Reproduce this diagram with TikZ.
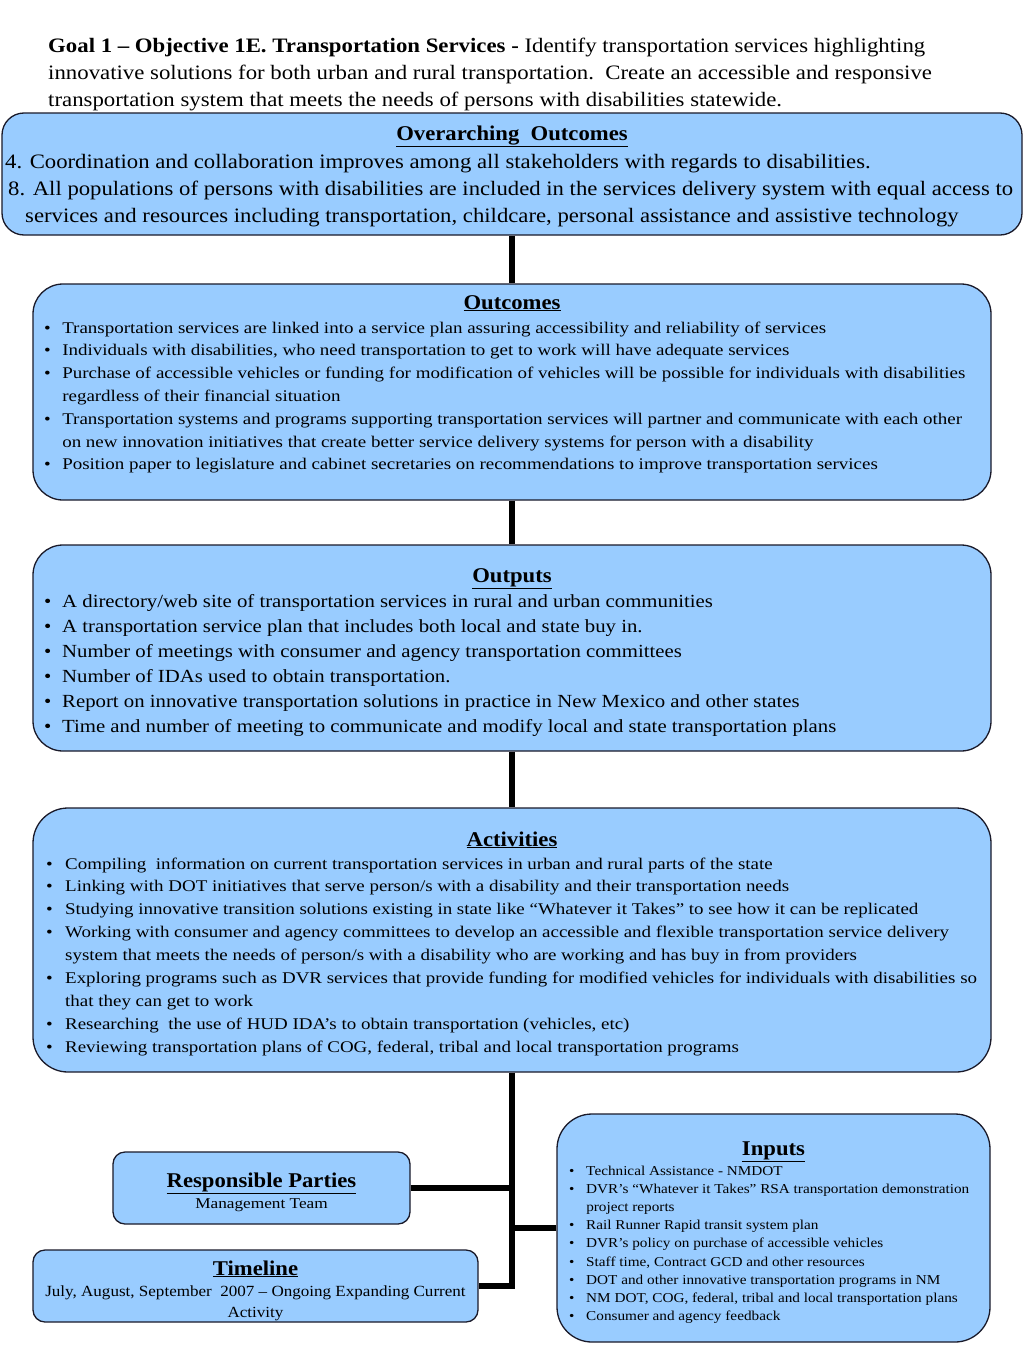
\documentclass[tikz,border=0pt]{standalone}
\usepackage{fontspec}
\setmainfont{Liberation Serif}
\definecolor{boxblue}{HTML}{99CCFF}
\definecolor{edge}{HTML}{1A1A2A}
\newcommand{\blt}[1]{\makebox[#1][l]{•}}
\tikzset{
  box/.style={draw=edge, line width=1.3pt, fill=boxblue, inner sep=0pt},
  conn/.style={line width=6.5pt, black, line join=miter},
  txt/.style={inner sep=0pt, anchor=base west, align=left, transform shape},
  ttl/.style={inner sep=0pt, anchor=base, xscale=1.08, transform shape, font=\fontsize{21}{27}\selectfont\bfseries}
}
\begin{document}
\begin{tikzpicture}[x=1pt,y=1pt]
\useasboundingbox[fill=white] (0,0) rectangle (1024,-1365);

% header
\node[txt, xscale=1.112] (head) at (48,-52) {\fontsize{20.5}{27}\selectfont\begin{tabular}[t]{@{}l@{}}\textbf{Goal 1 – Objective 1E. Transportation Services -} Identify transportation services highlighting\\ innovative solutions for both urban and rural transportation.\ \ Create an accessible and responsive\\ transportation system that meets the needs of persons with disabilities statewide.\end{tabular}};

% boxes
\node[box, rounded corners=22pt, minimum width=1020pt, minimum height=122pt] (over) at (512,-174) {};
\node[box, rounded corners=30pt, minimum width=958pt, minimum height=216pt] (outc) at (512,-392) {};
\node[box, rounded corners=30pt, minimum width=958pt, minimum height=206pt] (outp) at (512,-648) {};
\node[box, rounded corners=35pt, minimum width=958pt, minimum height=264pt] (act) at (512,-940) {};
\node[box, rounded corners=12pt, minimum width=297pt, minimum height=72pt] (resp) at (261.5,-1188) {};
\node[box, rounded corners=12pt, minimum width=445pt, minimum height=72pt] (tl) at (255.5,-1286) {};
\node[box, rounded corners=35pt, minimum width=433pt, minimum height=228pt] (inp) at (773.5,-1228) {};

% connectors
\draw[conn] (over.south) -- (outc.north);
\draw[conn] (outc.south) -- (outp.north);
\draw[conn] (outp.south) -- (act.north);
\draw[conn] (act.south) -- (act.south |- tl.east) -- (tl.east);
\draw[conn] (resp.east) -- (resp.east -| act.south);
\draw[conn] (inp.west) -- (inp.west -| act.south);

% overarching
\node[ttl] (overt) at (512,-140) {\underline{Overarching\ \ Outcomes}};
\node[txt, xscale=1.108] (overb) at (5,-168) {\fontsize{20.5}{27}\selectfont\begin{tabular}[t]{@{}l@{}}4. Coordination and collaboration improves among all stakeholders with regards to disabilities.\\
\hspace*{2.7pt}8. All populations of persons with disabilities are included in the services delivery system with equal access to\\
\hspace*{18pt}services and resources including transportation, childcare, personal assistance and assistive technology\end{tabular}};

% outcomes
\node[ttl] (outct) at (512,-309) {\underline{Outcomes}};
\node[txt, xscale=1.164] (outcb) at (44,-333) {\fontsize{16.3}{22.8}\selectfont\begin{tabular}[t]{@{}l@{}}
\blt{15.5pt}Transportation services are linked into a service plan assuring accessibility and reliability of services\\
\blt{15.5pt}Individuals with disabilities, who need transportation to get to work will have adequate services\\
\blt{15.5pt}Purchase of accessible vehicles or funding for modification of vehicles will be possible for individuals with disabilities\\
\hspace*{15.5pt}regardless of their financial situation\\
\blt{15.5pt}Transportation systems and programs supporting transportation services will partner and communicate with each other\\
\hspace*{15.5pt}on new innovation initiatives that create better service delivery systems for person with a disability\\
\blt{15.5pt}Position paper to legislature and cabinet secretaries on recommendations to improve transportation services
\end{tabular}};

% outputs
\node[ttl] (outpt) at (512,-582) {\underline{Outputs}};
\node[txt, xscale=1.123] (outpb) at (44,-607) {\fontsize{18.5}{25}\selectfont\begin{tabular}[t]{@{}l@{}}
\blt{16pt}A directory/web site of transportation services in rural and urban communities\\
\blt{16pt}A transportation service plan that includes both local and state buy in.\\
\blt{16pt}Number of meetings with consumer and agency transportation committees\\
\blt{16pt}Number of IDAs used to obtain transportation.\\
\blt{16pt}Report on innovative transportation solutions in practice in New Mexico and other states\\
\blt{16pt}Time and number of meeting to communicate and modify local and state transportation plans
\end{tabular}};

% activities
\node[ttl] (actt) at (512,-846) {\underline{Activities}};
\node[txt, xscale=1.163] (actb) at (46,-869) {\fontsize{16.3}{22.9}\selectfont\begin{tabular}[t]{@{}l@{}}
\blt{16.3pt}Compiling\ \ information on current transportation services in urban and rural parts of the state\\
\blt{16.3pt}Linking with DOT initiatives that serve person/s with a disability and their transportation needs\\
\blt{16.3pt}Studying innovative transition solutions existing in state like “Whatever it Takes” to see how it can be replicated\\
\blt{16.3pt}Working with consumer and agency committees to develop an accessible and flexible transportation service delivery\\
\hspace*{16.3pt}system that meets the needs of person/s with a disability who are working and has buy in from providers\\
\blt{16.3pt}Exploring programs such as DVR services that provide funding for modified vehicles for individuals with disabilities so\\
\hspace*{16.3pt}that they can get to work\\
\blt{16.3pt}Researching\ \ the use of HUD IDA’s to obtain transportation (vehicles, etc)\\
\blt{16.3pt}Reviewing transportation plans of COG, federal, tribal and local transportation programs
\end{tabular}};

% responsible parties
\node[ttl] (respt) at (261.5,-1187) {\underline{Responsible Parties}};
\node[inner sep=0pt, anchor=base, xscale=1.15, transform shape] (respb) at (261.5,-1208) {\fontsize{15}{18}\selectfont Management Team};

% timeline
\node[ttl] (tlt) at (255.5,-1275) {\underline{Timeline}};
\node[inner sep=0pt, anchor=base, align=center, xscale=1.1, transform shape] (tlb) at (255.5,-1296) {\fontsize{15.5}{21}\selectfont\begin{tabular}[t]{@{}c@{}}July, August, September\ \ 2007 – Ongoing Expanding Current\\ Activity\end{tabular}};

% inputs
\node[ttl] (inpt) at (773.5,-1155) {\underline{Inputs}};
\node[txt, xscale=1.12] (inpb) at (569,-1175) {\fontsize{13.6}{18.2}\selectfont\begin{tabular}[t]{@{}l@{}}
\blt{15.2pt}Technical Assistance - NMDOT\\
\blt{15.2pt}DVR’s “Whatever it Takes” RSA transportation demonstration\\
\hspace*{15.2pt}project reports\\
\blt{15.2pt}Rail Runner Rapid transit system plan\\
\blt{15.2pt}DVR’s policy on purchase of accessible vehicles\\
\blt{15.2pt}Staff time, Contract GCD and other resources\\
\blt{15.2pt}DOT and other innovative transportation programs in NM\\
\blt{15.2pt}NM DOT, COG, federal, tribal and local transportation plans\\
\blt{15.2pt}Consumer and agency feedback
\end{tabular}};
\end{tikzpicture}
\end{document}
